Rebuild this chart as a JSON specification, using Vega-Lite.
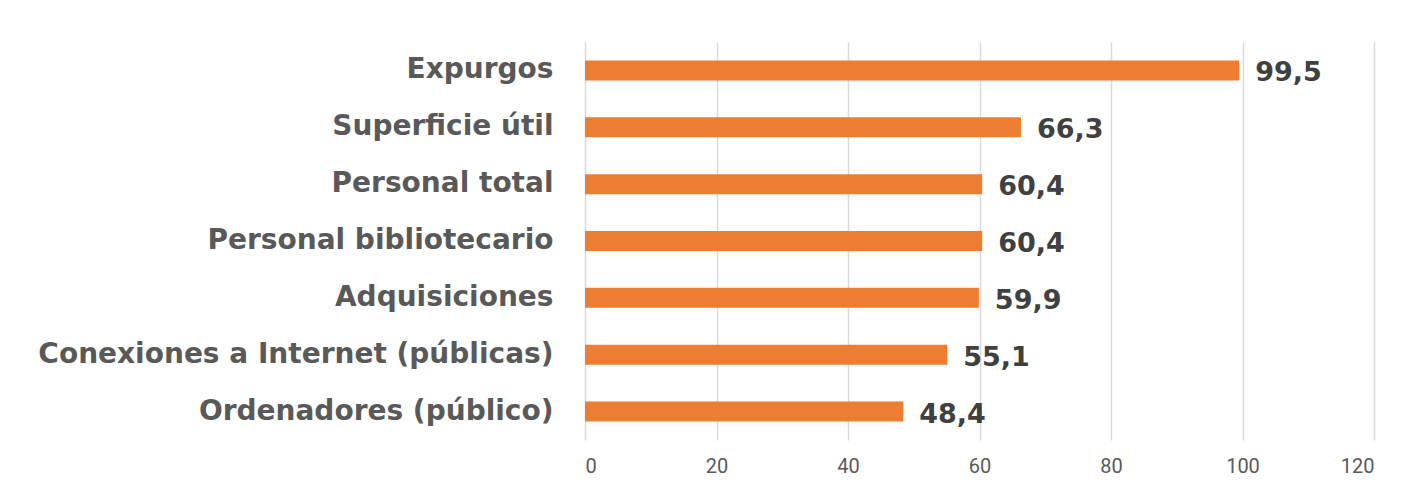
{
  "$schema": "https://vega.github.io/schema/vega-lite/v6.json",
  "width": 789,
  "height": 398,
  "padding": {"left": 37, "top": 42, "right": 10, "bottom": 5},
  "data": {
    "values": [
      {"indicador": "Expurgos", "valor": 99.5},
      {"indicador": "Superficie útil", "valor": 66.3},
      {"indicador": "Personal total", "valor": 60.4},
      {"indicador": "Personal bibliotecario", "valor": 60.4},
      {"indicador": "Adquisiciones", "valor": 59.9},
      {"indicador": "Conexiones a Internet (públicas)", "valor": 55.1},
      {"indicador": "Ordenadores (público)", "valor": 48.4}
    ]
  },
  "encoding": {
    "y": {
      "field": "indicador",
      "type": "nominal",
      "sort": null,
      "title": null,
      "axis": {
        "ticks": false,
        "domain": false,
        "labelPadding": 32,
        "labelFont": "DejaVu Sans",
        "labelFontWeight": "bold",
        "labelFontSize": 28,
        "labelColor": "#595959",
        "labelLimit": 700
      }
    },
    "x": {
      "field": "valor",
      "type": "quantitative",
      "title": null,
      "scale": {"domain": [0, 120]},
      "axis": {
        "values": [0, 20, 40, 60, 80, 100, 120],
        "format": "d",
        "domain": false,
        "ticks": false,
        "labelPadding": 16,
        "labelFont": "Roboto",
        "labelFontSize": 20,
        "labelColor": "#595959",
        "gridColor": "#d9d9d9",
        "gridWidth": 1.5
      }
    }
  },
  "layer": [
    {
      "mark": {"type": "bar", "color": "#ED7D31", "height": 20}
    },
    {
      "mark": {
        "type": "text",
        "align": "left",
        "baseline": "middle",
        "dx": 16,
        "dy": 3,
        "font": "DejaVu Sans",
        "fontWeight": "bold",
        "fontSize": 27,
        "color": "#404040"
      },
      "encoding": {
        "text": {"field": "valor", "type": "quantitative", "format": ".1f"}
      }
    }
  ],
  "config": {
    "view": {"stroke": null},
    "locale": {
      "number": {"decimal": ",", "thousands": ".", "grouping": [3], "currency": ["", " €"]}
    }
  }
}
